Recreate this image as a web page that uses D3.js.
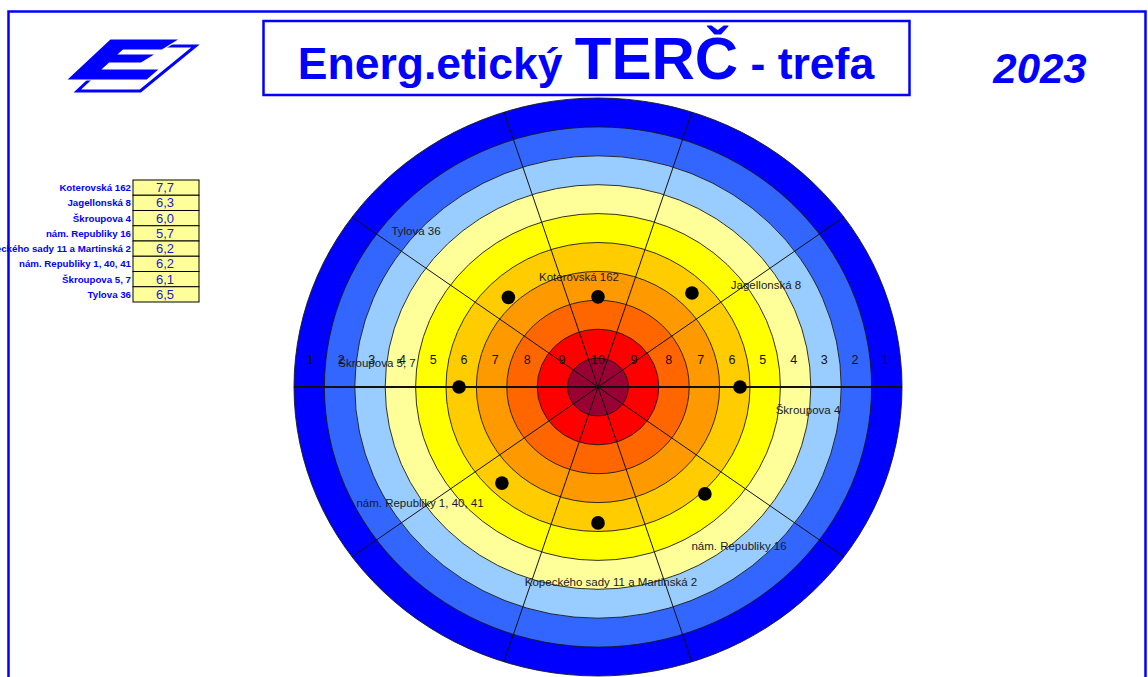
<!DOCTYPE html>
<html>
<head>
<meta charset="utf-8">
<script src="https://cdn.jsdelivr.net/npm/d3@7"></script>
<style>
  html, body { margin: 0; padding: 0; background: #fff; }
  svg { display: block; font-family: "Liberation Sans", Arial, sans-serif; }
</style>
</head>
<body>
<svg id="chart" width="1148" height="677"></svg>
<script>
// Buildings and their scores for the year
const sites = [
  "Koterovská 162",
  "Jagellonská 8",
  "Škroupova 4",
  "nám. Republiky 16",
  "Kopeckého sady 11 a Martinská 2",
  "nám. Republiky 1, 40, 41",
  "Škroupova 5, 7",
  "Tylova 36"
];
const scores = [7.7, 6.3, 6.0, 5.7, 6.2, 6.2, 6.1, 6.5];
const ringNumbers = [1, 2, 3, 4, 5, 6, 7, 8, 9, 10];
const year = "2023";

// Ring fills, outermost (1) to bull (10)
const ringColors = ["#0000ff", "#3366ff", "#99ccff", "#ffff99", "#ffff00",
                    "#ffcc00", "#ff9900", "#ff6600", "#ff0000", "#990033"];
// Where each building name sits relative to the target centre
const labelOffsets = [[-19, -110], [168, -102], [210, 23], [141, 159],
                      [13, 195], [-178, 116], [-221, -24], [-182, -156]];

const svg = d3.select("#chart");
const BLUE = "#0000ff";

// ---- page frame ----
svg.append("path")
  .attr("d", "M8.5,677 V11.5 H1145.5 V677")
  .attr("fill", "none").attr("stroke", BLUE).attr("stroke-width", 2.5);

// ---- logo ----
const logo = svg.append("g").attr("transform", "translate(110,39)");
const k = 1.07;
const P = (u, v) => [u - v * k, v];
const outline = [P(23, 7), P(93, 7), P(86, 52), P(23, 52)];
logo.append("polygon")
  .attr("points", outline.map(p => p.join(",")).join(" "))
  .attr("fill", "none").attr("stroke", BLUE).attr("stroke-width", 3);
const eShape = [P(0, 0), P(70, 0), P(64, 11), P(25, 11), P(25, 15), P(62, 15),
                P(57, 24), P(25, 24), P(25, 30), P(82, 30), P(81, 41), P(0, 41)];
logo.append("polygon")
  .attr("points", eShape.map(p => p.join(",")).join(" "))
  .attr("fill", BLUE).attr("stroke", "#fff").attr("stroke-width", 1.2);

// ---- title ----
svg.append("rect")
  .attr("x", 263.5).attr("y", 21).attr("width", 646).attr("height", 74)
  .attr("fill", "none").attr("stroke", BLUE).attr("stroke-width", 2.5);
const title = svg.append("text")
  .attr("x", 586).attr("y", 79).attr("text-anchor", "middle")
  .attr("fill", BLUE).attr("font-weight", "bold");
title.append("tspan").attr("font-size", 44.5).text("Energ.etický ");
title.append("tspan").attr("font-size", 60).text("TERČ");
title.append("tspan").attr("font-size", 44.5).text(" - trefa");

svg.append("text")
  .attr("x", 1040).attr("y", 83).attr("text-anchor", "middle")
  .attr("fill", BLUE).attr("font-weight", "bold").attr("font-style", "italic")
  .attr("font-size", 42).text(year);

// ---- score table ----
const rowY = d3.scaleBand().domain(d3.range(sites.length)).range([180, 302]);
const table = svg.append("g");
const rows = table.selectAll("g.row").data(sites).join("g").attr("class", "row")
  .attr("transform", (d, i) => `translate(0,${rowY(i)})`);
rows.append("rect")
  .attr("x", 133).attr("y", 0).attr("width", 66).attr("height", rowY.bandwidth())
  .attr("fill", "#ffff99").attr("stroke", "#000").attr("stroke-width", 1);
rows.append("text")
  .attr("x", 131).attr("y", rowY.bandwidth() / 2 + 3.5)
  .attr("text-anchor", "end").attr("font-size", 9.7).attr("font-weight", "bold")
  .attr("fill", BLUE).text(d => d);
rows.append("text")
  .attr("x", 165).attr("y", rowY.bandwidth() / 2 + 4.5)
  .attr("text-anchor", "middle").attr("font-size", 13)
  .attr("fill", "#1a1acc").text((d, i) => d3.format(".1f")(scores[i]).replace(".", ","));

// ---- target ----
const cx = 598, cy = 387, RX = 304, RY = 289;
const ringRX = d3.scaleLinear().domain([11, 1]).range([0, RX]);
const ringRY = d3.scaleLinear().domain([11, 1]).range([0, RY]);
const target = svg.append("g");

target.selectAll("ellipse.ring").data(ringNumbers).join("ellipse")
  .attr("class", "ring")
  .attr("cx", cx).attr("cy", cy)
  .attr("rx", d => ringRX(d)).attr("ry", d => ringRY(d))
  .attr("fill", (d, i) => ringColors[i])
  .attr("stroke", "#1a1a1a").attr("stroke-width", 0.9);

// ten spokes, 36 degrees apart
const spokes = d3.range(10).map(i => i * 36 * Math.PI / 180);
target.selectAll("line.spoke").data(spokes).join("line")
  .attr("class", "spoke")
  .attr("x1", cx).attr("y1", cy)
  .attr("x2", a => cx + RX * Math.cos(a))
  .attr("y2", a => cy - RY * Math.sin(a))
  .attr("stroke", "#111")
  .attr("stroke-width", a => (Math.abs(Math.sin(a)) < 1e-6 ? 1.8 : 1));

// ring numbers along a line just above the centre
const numY = cy - 28;
const numX = n => {
  const mid = (ringRX(n) + ringRX(n + 1)) / 2;
  return Math.sqrt(Math.max(mid * mid - 28 * 28, 0));
};
const numberData = [];
ringNumbers.forEach(n => {
  if (n === 10) numberData.push({ n, x: cx });
  else { numberData.push({ n, x: cx - numX(n) }); numberData.push({ n, x: cx + numX(n) }); }
});
target.selectAll("text.num").data(numberData).join("text")
  .attr("class", "num")
  .attr("x", d => d.x).attr("y", numY + 4.5)
  .attr("text-anchor", "middle").attr("font-size", 12.5)
  .attr("fill", "#111").text(d => d.n);

// building names
target.selectAll("text.site").data(sites).join("text")
  .attr("class", "site")
  .attr("x", (d, i) => cx + labelOffsets[i][0])
  .attr("y", (d, i) => cy + labelOffsets[i][1] + 4)
  .attr("text-anchor", "middle").attr("font-size", 11.5)
  .attr("fill", "#1a1a1a").text(d => d);

// hits: one per building, clockwise from the top
const rHit = d3.scaleLinear().domain([10, 0]).range([20, 325]);
const angle = i => (-90 + i * 45) * Math.PI / 180;
target.selectAll("circle.hit").data(scores).join("circle")
  .attr("class", "hit")
  .attr("cx", (d, i) => cx + rHit(d) * Math.cos(angle(i)))
  .attr("cy", (d, i) => cy + rHit(d) * Math.sin(angle(i)))
  .attr("r", 6.8).attr("fill", "#000");
</script>
</body>
</html>
